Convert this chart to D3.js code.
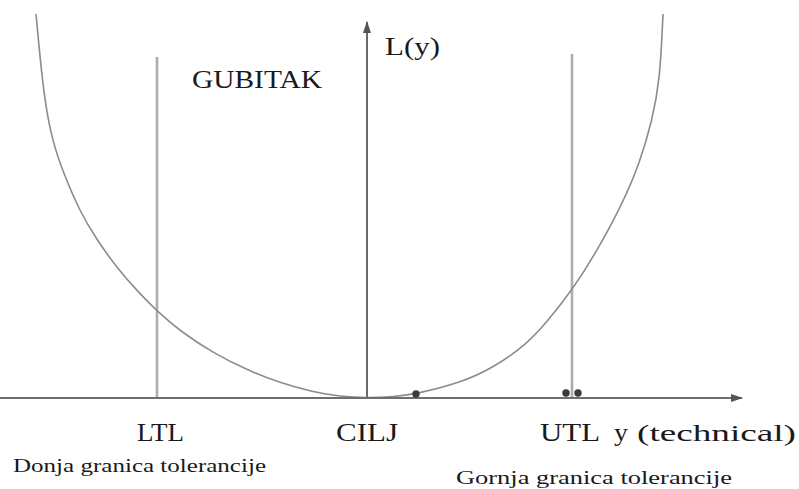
<!DOCTYPE html>
<html>
<head>
<meta charset="utf-8">
<script src="https://cdn.jsdelivr.net/npm/d3@7"></script>
<style>
  html, body { margin: 0; padding: 0; background: #fff; }
  svg { display: block; }
</style>
</head>
<body>
<svg id="chart" width="799" height="489"></svg>
<script>
// ---- data ----
// loss curve: technical characteristic y (target = 0) and loss L(y)
const curveY    = [-3.31, -3.23, -3.14, -3.04, -2.87, -2.70, -2.50, -2.27, -2.09, -1.87, -1.54, -1.20, -0.87, -0.54, -0.27, 0.00, 0.27,  0.49, 0.93, 1.26, 1.60, 1.80, 2.05, 2.26, 2.56, 2.73, 2.85, 2.93, 2.96];
const curveLoss = [ 3.84,  2.98,  2.55,  2.26,  1.86,  1.58,  1.30,  1.04,  0.86,  0.67,  0.45,  0.28,  0.15,  0.06,  0.015, 0.00, 0.013, 0.04, 0.15, 0.30, 0.54, 0.76, 1.08, 1.40, 1.95, 2.36, 2.77, 3.18, 3.84];

// tolerance limits and target
const limitNames  = ["LTL", "CILJ", "UTL"];
const limitValues = [-2.10, 0.00, 2.05];
const limitTops   = [3.41, 3.76, 3.44];

// sample points sitting on the axis
const pointY    = [0.49, 1.99, 2.11];
const pointLoss = [0.04, 0.05, 0.05];

// labels
const axisLabelY   = "y";
const axisUnit     = "(technical)";
const lossLabel    = "L(y)";
const lossTitle    = "GUBITAK";
const lowerCaption = "Donja granica tolerancije";
const upperCaption = "Gornja granica tolerancije";

const SERIF = "'Liberation Serif', 'Times New Roman', Tinos, 'DejaVu Serif', serif";

// ---- drawing ----
const svg = d3.select("#chart");
const x = d3.scaleLinear().domain([-3.67, 3.75]).range([0, 742]);
const yS = d3.scaleLinear().domain([0, 3.84]).range([398, 14]);

const defs = svg.append("defs");
function arrowMarker(id, color) {
  defs.append("marker")
    .attr("id", id)
    .attr("viewBox", "0 0 12 10")
    .attr("refX", 11).attr("refY", 5)
    .attr("markerWidth", 12).attr("markerHeight", 10)
    .attr("markerUnits", "userSpaceOnUse")
    .attr("orient", "auto")
    .append("path").attr("d", "M0,1 L12,5 L0,9 Z").attr("fill", color);
}
arrowMarker("arrX", "#555");
arrowMarker("arrY", "#555");

// tolerance limit lines (LTL, UTL)
svg.selectAll("line.limit")
  .data(limitValues.map((v, i) => ({ v, top: limitTops[i], name: limitNames[i] })).filter(d => d.name !== "CILJ"))
  .join("line")
  .attr("class", "limit")
  .attr("x1", d => x(d.v)).attr("x2", d => x(d.v))
  .attr("y1", yS(0)).attr("y2", d => yS(d.top))
  .attr("stroke", "#adadad").attr("stroke-width", 2.6);

// loss curve
const pts = curveY.map((v, i) => [v, curveLoss[i]]);
svg.append("path")
  .datum(pts)
  .attr("d", d3.line().x(d => x(d[0])).y(d => yS(d[1])).curve(d3.curveBasis))
  .attr("fill", "none").attr("stroke", "#8c8c8c").attr("stroke-width", 1.6);

// x axis with arrow
svg.append("line")
  .attr("x1", x(-3.67)).attr("x2", x(3.75))
  .attr("y1", yS(0)).attr("y2", yS(0))
  .attr("stroke", "#6e6e6e").attr("stroke-width", 2.2)
  .attr("marker-end", "url(#arrX)");

// target (CILJ) vertical arrow = L(y) axis
const ti = limitNames.indexOf("CILJ");
svg.append("line")
  .attr("x1", x(limitValues[ti])).attr("x2", x(limitValues[ti]))
  .attr("y1", yS(0)).attr("y2", yS(limitTops[ti]))
  .attr("stroke", "#6a6a6a").attr("stroke-width", 2)
  .attr("marker-end", "url(#arrY)");

// points
svg.selectAll("circle.pt")
  .data(pointY.map((v, i) => [v, pointLoss[i]]))
  .join("circle")
  .attr("class", "pt")
  .attr("cx", d => x(d[0])).attr("cy", d => yS(d[1]))
  .attr("r", 3.7).attr("fill", "#3a3a3a");

// labels
function label(txt, px, py, size, len, anchor) {
  return svg.append("text")
    .attr("x", px).attr("y", py)
    .attr("font-family", SERIF)
    .attr("font-size", size)
    .attr("fill", "#1a1a1a")
    .attr("text-anchor", anchor || "start")
    .attr("textLength", len).attr("lengthAdjust", "spacingAndGlyphs")
    .text(txt);
}
label(lossLabel, 385, 55, 25, 55);
label(lossTitle, 192, 88, 25, 130);

const lblW = [47, 62, 60];
const lblDx = [-20, -31, -32];
limitNames.forEach((n, i) => label(n, x(limitValues[i]) + lblDx[i], 441, 25, lblW[i]));

label(axisLabelY, 614, 441, 25, 14);
label(axisUnit, 637, 441, 24, 159);
label(lowerCaption, 13, 472, 19, 253);
label(upperCaption, 456, 484, 19, 276);
</script>
</body>
</html>
